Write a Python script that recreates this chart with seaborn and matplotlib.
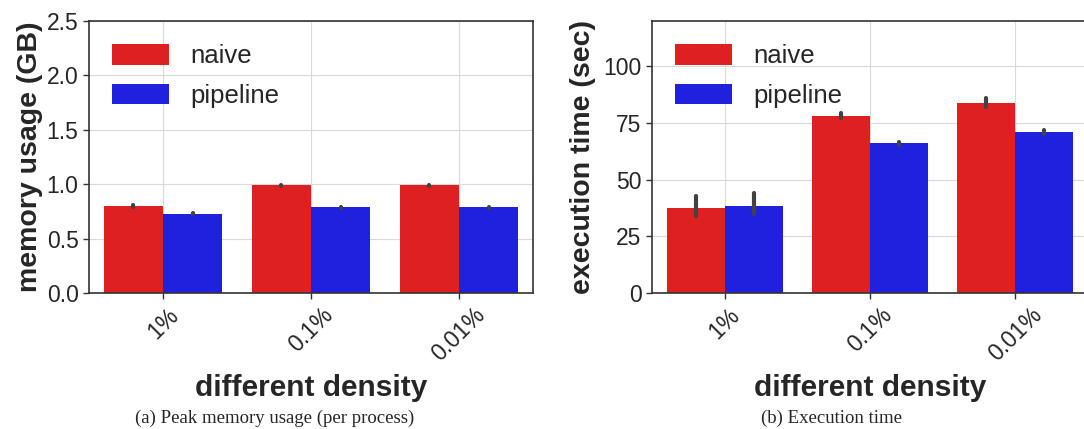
import pandas as pd
import numpy as np
import matplotlib
matplotlib.use("Agg")
import matplotlib.pyplot as plt
import seaborn as sns

# densities on the x axis
categories = ["1%", "0.1%", "0.01%"]
methods = ["naive", "pipeline"]

# repeated runs per density (bar = mean, whisker = min..max)
mem_naive = [[0.79, 0.80, 0.81], [0.985, 0.99, 0.995], [0.985, 0.99, 0.995]]
mem_pipeline = [[0.725, 0.73, 0.735], [0.785, 0.79, 0.795], [0.785, 0.79, 0.795]]

time_naive = [[34.0, 35.5, 43.0], [77.2, 77.5, 79.3], [82.0, 84.0, 86.0]]
time_pipeline = [[35.0, 36.5, 44.0], [65.5, 66.0, 66.5], [70.0, 71.0, 72.0]]


def to_long(naive, pipeline):
    rows = []
    for method, runs in zip(methods, [naive, pipeline]):
        for cat, vals in zip(categories, runs):
            for v in vals:
                rows.append({"density": cat, "method": method, "value": v})
    return pd.DataFrame(rows)


mem_df = to_long(mem_naive, mem_pipeline)
time_df = to_long(time_naive, time_pipeline)

sns.set_style("whitegrid", {
    "axes.edgecolor": ".2",
    "xtick.bottom": True,
    "ytick.left": True,
    "grid.color": ".85",
})
plt.rcParams["font.family"] = ["Liberation Sans", "DejaVu Sans"]

fig = plt.figure(figsize=(10.84, 4.29), dpi=100)
ax1 = fig.add_axes([0.0821, 0.317, 0.4096, 0.634])
ax2 = fig.add_axes([0.6015, 0.317, 0.402, 0.634])

panels = [
    (ax1, mem_df, "memory usage (GB)", (0, 2.5), [0, 0.5, 1.0, 1.5, 2.0, 2.5], "{:.1f}"),
    (ax2, time_df, "execution time (sec)", (0, 120), [0, 25, 50, 75, 100], "{:.0f}"),
]

for ax, df, ylabel, ylim, yticks, fmt in panels:
    sns.barplot(data=df, x="density", y="value", hue="method", order=categories,
                hue_order=methods, palette=["red", "blue"], errorbar=("pi", 100),
                err_kws={"linewidth": 3, "color": ".26"}, linewidth=0, ax=ax)
    ax.set_ylim(*ylim)
    ax.set_xlim(-0.5, 2.5)
    ax.set_yticks(yticks)
    ax.set_yticklabels([fmt.format(t) for t in yticks], fontsize=16.5)
    ax.set_xticks(range(len(categories)))
    ax.set_xticklabels(categories, rotation=45, fontsize=16.5)
    ax.grid(True, axis="both")
    ax.set_axisbelow(True)
    ax.set_ylabel(ylabel, fontsize=20.5, fontweight="bold")
    ax.set_xlabel("different density", fontsize=21.5, fontweight="bold", labelpad=6)
    for s in ax.spines.values():
        s.set_linewidth(1.2)
    ax.tick_params(axis="both", length=4, width=1, color=".2")
    ax.legend(loc="upper left", frameon=False, fontsize=18.5, handlelength=2.2,
              handleheight=0.85, handletextpad=0.85, labelspacing=0.6,
              borderaxespad=0.5)

ax1.yaxis.labelpad = 3
ax2.yaxis.labelpad = 5

fig.text(0.253, 0.026, "(a) Peak memory usage (per process)", ha="center", va="center",
         family="Liberation Serif", fontsize=13.5)
fig.text(0.767, 0.026, "(b) Execution time", ha="center", va="center",
         family="Liberation Serif", fontsize=13.5)

fig.savefig("out.png", dpi=100)
